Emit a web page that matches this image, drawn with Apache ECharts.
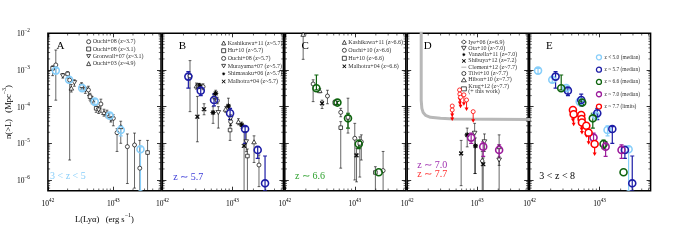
<!DOCTYPE html>
<html><head><meta charset="utf-8">
<script src="https://cdn.jsdelivr.net/npm/echarts@6/dist/echarts.min.js"></script>
<style>html,body{margin:0;padding:0;background:#fff}#c{width:690px;height:240px}</style>
</head><body><div id="c"></div>
<script>
// ---------------- data: rows are [L (erg/s), n(>L) (Mpc^-3), errLow, errHigh] ----------------
const xRange = [1e42, 5.36e43];
const yRange = [5.1e-7, 1e-2];
const xDecades = [42, 43];
const yDecades = [-7, -6, -5, -4, -3];
const minorMult = [2, 3, 4, 5, 6, 7, 8, 9];

// Panel A (3 < z < 5)
const medA = [[1.32e42,9.6e-4,8.0e-4,1.1e-3],[2.11e42,5.4e-4,4.6e-4,6.2e-4],[3.34e42,3.2e-4,2.8e-4,3.6e-4],[5.2e42,1.37e-4,1.1e-4,1.6e-4],[8.8e42,5.7e-5,4.9e-5,6.4e-5],[1.3e43,2.3e-5,1.6e-5,3.0e-5],[2.6e43,6.9e-6,5.1e-7,8.0e-6]];
const ouchi08z37 = [[1.32e42,1.37e-3,1.5e-4,3.5e-3],[2.15e42,5.3e-4,3.5e-6,6.5e-4],[4.16e42,2.85e-4,2.0e-4,3.6e-4],[6.46e42,1.18e-4,7e-5,1.6e-4],[1.0e43,4.8e-5,3e-5,6e-5],[1.14e43,1.95e-5,6e-6,2.5e-5],[1.64e43,8.1e-6,8e-7,1.8e-5],[2.11e43,9.0e-6,6e-7,1.9e-5],[2.54e43,2.1e-6,5.1e-7,1.2e-5]];
const ouchi08z31 = [[1.18e42,1.11e-3,7e-4,1.3e-3],[2.0e42,7.8e-4,6e-4,9e-4],[3.27e42,3.7e-4,3e-4,4.5e-4],[4.4e42,1.87e-4,1.5e-4,2.3e-4],[5.47e42,9.0e-5,7e-5,1.1e-4],[8.0e42,6.3e-5,5e-5,8e-5],[3.34e43,5.6e-6,5.1e-7,1.2e-5]];
const gronwall07 = [[1.69e42,6.9e-4,6e-4,8e-4],[2.54e42,4.5e-4,3.6e-4,5.4e-4],[3.73e42,2.85e-4,2.3e-4,3.4e-4],[5.97e42,8.1e-5,6.5e-5,1.0e-4],[9.16e42,4.5e-5,3.8e-5,5.3e-5]];
const ouchi03 = [[2.28e42,3.2e-4,2.5e-4,4e-4],[4.74e42,1.52e-4,1.2e-4,1.9e-4],[7.2e42,6.9e-5,5.5e-5,8.5e-5],[1.3e43,2.85e-5,1.0e-5,4e-5]];

// Panel B (z ~ 5.7)
const medB = [[2.35e42,6.6e-4,3.2e-4,9e-4],[3.53e42,2.73e-4,2.0e-4,3.3e-4],[5.47e42,1.52e-4,1.05e-4,2.2e-4],[9.27e42,6.6e-5,4.4e-5,9e-5],[1.52e43,2.46e-5,1e-5,2.85e-5],[2.3e43,6.6e-6,3.9e-6,8.1e-6],[2.93e43,8.1e-7,5.1e-7,4.5e-6]];
const kashikawa11B = [[3.06e42,3.67e-4,3e-4,4.4e-4],[5.47e42,1.95e-4,1.6e-4,2.3e-4],[8.0e42,8.5e-5,7e-5,1.0e-4],[1.22e43,3.9e-5,3.2e-5,4.7e-5],[2.04e43,1.1e-5,3e-6,1.6e-5]];
const hu10B = [[3.27e42,3.67e-4,3.1e-4,4.3e-4],[9.27e42,2.3e-5,1.2e-5,4.8e-5],[1.64e43,4.5e-6,5.1e-7,7e-6]];
const ouchi08B = [[2.48e42,6.9e-4,7.3e-5,1.8e-3],[3.81e42,3.5e-4,2.9e-4,4.2e-4],[6.1e42,1.46e-4,1.2e-4,1.8e-4],[9.46e42,3.9e-5,3.1e-5,4.8e-5],[2.4e43,2.56e-6,6.6e-7,4.8e-6]];
const murayama07 = [[6.3e42,6.9e-5,2.6e-5,1.0e-4],[9.46e42,4.8e-5,3e-5,6e-5],[1.58e43,1.1e-5,5.9e-6,2.1e-5]];
const shimasaku06 = [[3.41e42,3.67e-4,3.2e-4,4.3e-4],[5.3e42,6.9e-5,3.5e-5,1e-4],[5.78e42,2.3e-4,1.5e-4,2.8e-4],[8.77e42,1.04e-4,8.5e-5,1.7e-4],[1.36e43,3.16e-5,2.6e-5,3.8e-5]];
const malhotra04B = [[3.16e42,5.3e-5,1.1e-5,1.9e-4],[3.94e42,8.5e-5,6e-5,1.2e-4],[1.47e43,8.5e-6,5.1e-7,2.1e-5]];

// Panel C (z ~ 6.6)
const medC = [[2.83e42,3.16e-4,2.85e-4,7.3e-4],[5.65e42,1.29e-4,1.15e-4,1.4e-4],[8.0e42,4.8e-5,2.6e-5,6.6e-5],[1.14e43,9.6e-6,7.2e-6,1.23e-5],[2.2e43,1.62e-6,null,null]];
const kashikawa11C = [[1.83e42,9.4e-3,1.95e-3,9.4e-3],[3.16e42,2.73e-4,2.4e-4,3.1e-4]];
const ouchi10C = [[2.54e42,4.15e-4,1.37e-4,5.4e-4],[4.07e42,1.95e-4,1.2e-4,2.8e-4],[6.3e42,7.0e-5,5.3e-5,9e-5],[1.0e43,1.37e-5,1e-6,3.5e-5],[1.24e43,1.1e-5,3.5e-6,1.7e-5],[2.54e43,1.8e-6,5.1e-7,6e-6]];
const hu10C = [[5.18e42,1.29e-4,1.1e-4,1.5e-4],[6.3e42,2.67e-5,2.1e-6,3.9e-5],[8.0e42,5.1e-5,1.9e-5,1.7e-4],[1.18e43,1e-5,1.2e-6,1.5e-5],[1.97e43,1.6e-6,5.1e-7,2.3e-6]];
const malhotra04C = [[3.41e42,1.23e-4,8.9e-5,1.5e-4],[1.06e43,4.7e-6,8.9e-7,7.4e-6]];

// Panel D (z ~ 7.0 / 7.7)
const clement12 = [[1.585e42,2e-2],[1.585e42,1.5e-4],[1.62e42,9.0e-5],[1.69e42,6.9e-5],[1.83e42,5.8e-5],[2.15e42,5.1e-5],[2.99e42,4.8e-5],[4.64e42,4.6e-5],[1e44,4.45e-5]];
const limitsD = [[4.4e42,1.04e-4],[4.4e42,8.1e-5],[5.6e42,2.85e-4],[5.65e42,2.2e-4],[5.78e42,1.8e-4],[6.46e42,2.1e-4],[7.05e42,1.52e-4],[8.77e42,7.3e-5]];
const medD = [[8.2e42,1.43e-5,1e-5,1.9e-5],[1.22e43,8.1e-6,4.4e-6,1.1e-5],[2.06e43,6.6e-6,3.9e-6,9.1e-6]];
const iye06 = [[1.18e43,3.3e-6,5.1e-7,6e-6]];
const ota10 = [[9.2e42,1.88e-5,1.5e-6,3.5e-5],[1.27e43,1.1e-5,6e-6,1.8e-5],[2.06e43,3.5e-6,2.5e-6,4.4e-6]];
const vanzella11 = [[7.2e42,1.69e-5,8e-6,2.6e-5],[9.46e42,8.5e-6,1.5e-6,1.4e-5]];
const shibuya12 = [[5.9e42,5.3e-6,7e-7,1.2e-5],[1.22e43,2.7e-6,5.1e-7,4e-6]];
const tilvi10 = [];
const hibon10 = [[2.06e43,8.1e-6,5.1e-7,1.7e-5]];
const krug12 = [];

// Panel E (3 < z < 8): medians from A–D plus
const limitsE = [[4.16e42,8.1e-5],[4.26e42,6.2e-5],[5.47e42,5.9e-5],[5.53e42,4.6e-5],[5.6e42,3.7e-5],[6.46e42,3.0e-5],[6.97e42,1.95e-5],[8.5e42,9.6e-6]];

// ---------------- styling ----------------
const FONT = 'Liberation Serif';
const C_LB = '#87CEFA', C_BL = '#1c1ca6', C_GR = '#0e640e', C_PU = '#9c1c9c', C_RD = '#ff0000';
const INVTRI = 'path://M0,0L10,0L5,8.66Z';
const XSYM = 'path://M0,1.5L1.5,0L5,3.5L8.5,0L10,1.5L6.5,5L10,8.5L8.5,10L5,6.5L1.5,10L0,8.5L3.5,5Z';
const STAR = (function(){let s='path://';for(let k=0;k<16;k++){const a=Math.PI*k/8-Math.PI/2;const r=k%2===0?10:4.5;s+=(k===0?'M':'L')+(10+r*Math.cos(a)).toFixed(2)+','+(10+r*Math.sin(a)).toFixed(2);}return s+'Z';})();
const BAR = 'path://M0,0L12,0L12,2.6L0,2.6Z';

const rich = {
  b:{fontFamily:FONT,fontSize:7.5,lineHeight:10,verticalAlign:'bottom',color:'#000'},
  s:{fontFamily:FONT,fontSize:5.2,lineHeight:10,verticalAlign:'top',color:'#000'}
};
const nameRich = {
  b:{fontFamily:FONT,fontSize:8.5,lineHeight:12,verticalAlign:'bottom',color:'#000'},
  s:{fontFamily:FONT,fontSize:6,lineHeight:12,verticalAlign:'top',color:'#000'}
};
function powLabel(v){const l=Math.log10(v);const e=Math.round(l);if(Math.abs(l-e)>1e-6)return '';return '{b|10}{s|'+(e<0?'−'+(-e):e)+'}';}
function minorVals(decs,range){const out=[];decs.forEach(e=>minorMult.forEach(m=>{const v=m*Math.pow(10,e);if(v>range[0]&&v<range[1])out.push(v);}));return out;}
const xMinor = minorVals(xDecades,xRange), yMinor = minorVals(yDecades,yRange);

const grid=[],xAxis=[],yAxis=[];
for(let i=0;i<5;i++){
  grid.push({left:40+122.4*i,top:33.3,width:121,height:157.4,show:true,borderColor:'#000',borderWidth:1.5,backgroundColor:'rgba(0,0,0,0)'});
  const tick={show:true,inside:true,length:4,lineStyle:{color:'#000',width:0.8}};
  xAxis.push({type:'log',gridIndex:i,position:'bottom',min:xRange[0],max:xRange[1],axisLine:{show:false},axisTick:tick,minorTick:{show:false},splitLine:{show:false},
    axisLabel:{formatter:powLabel,rich:rich,margin:7,hideOverlap:false},
    name:i===0?'{b|L(Lyα)   (erg s}{s|−1}{b|)}':'',nameLocation:'middle',nameGap:19,nameTextStyle:{rich:nameRich}});
  xAxis.push({type:'log',gridIndex:i,position:'top',min:xRange[0],max:xRange[1],axisLine:{show:false},axisTick:tick,splitLine:{show:false},axisLabel:{show:false}});
  yAxis.push({type:'log',gridIndex:i,position:'left',min:yRange[0],max:yRange[1],axisLine:{show:false},axisTick:tick,minorTick:{show:false},splitLine:{show:false},
    axisLabel:{show:i===0,formatter:powLabel,rich:rich,margin:18,hideOverlap:false},
    name:i===0?'{b|n(>L)   (Mpc}{s|−3}{b|)}':'',nameLocation:'middle',nameGap:28,nameRotate:90,nameTextStyle:{rich:nameRich}});
  yAxis.push({type:'log',gridIndex:i,position:'right',min:yRange[0],max:yRange[1],axisLine:{show:false},axisTick:tick,splitLine:{show:false},axisLabel:{show:false}});
}

function scat(name,data,gi,symbol,o){o=o||{};return {type:'scatter',name:name,xAxisIndex:2*gi,yAxisIndex:2*gi,data:data.map(d=>[d[0],d[1]]),symbol:symbol,symbolSize:o.size||4,
  itemStyle:{color:o.fill||'#fff',borderColor:o.stroke||'#000',borderWidth:o.bw||0.7,opacity:1},z:o.z||4,silent:true,clip:true,animation:false};}
function errs(data,gi,color,lw,cap,z){return {type:'custom',xAxisIndex:2*gi,yAxisIndex:2*gi,clip:true,silent:true,z:z||2,animation:false,
  data:data.filter(d=>d[2]!=null).map(d=>[d[0],d[1],d[2],d[3]]),encode:{x:0,y:1},
  renderItem:function(p,api){const x=api.value(0),lo=api.value(2),hi=api.value(3);const a=api.coord([x,lo]),b=api.coord([x,hi]);
    const st={stroke:color,lineWidth:lw};
    return {type:'group',children:[
      {type:'line',shape:{x1:a[0],y1:a[1],x2:b[0],y2:b[1]},style:st},
      {type:'line',shape:{x1:a[0]-cap,y1:a[1],x2:a[0]+cap,y2:a[1]},style:st},
      {type:'line',shape:{x1:b[0]-cap,y1:b[1],x2:b[0]+cap,y2:b[1]},style:st}]};}};}
function arrows(data,gi,color,len,lw,z){return {type:'custom',xAxisIndex:2*gi,yAxisIndex:2*gi,clip:true,silent:true,z:z||3,animation:false,
  data:data.map(d=>[d[0],d[1]]),encode:{x:0,y:1},
  renderItem:function(p,api){const c=api.coord([api.value(0),api.value(1)]);const y1=c[1]+len;
    return {type:'group',children:[
      {type:'line',shape:{x1:c[0],y1:c[1],x2:c[0],y2:y1-2},style:{stroke:color,lineWidth:lw}},
      {type:'polygon',shape:{points:[[c[0]-2,y1-3.5],[c[0]+2,y1-3.5],[c[0],y1]]},style:{fill:color}}]};}};}
// minor (log) ticks on all four sides of a panel, placed through the axis scales
function minorTicks(gi){
  const st={stroke:'#000',lineWidth:0.6}, L=2.2;
  return [
    {type:'custom',xAxisIndex:2*gi,yAxisIndex:2*gi,clip:false,silent:true,z:8,animation:false,data:xMinor.map(v=>[v,yRange[0]]),encode:{x:0,y:1},
      renderItem:function(p,api){const cs=p.coordSys;const x=api.coord([api.value(0),yRange[0]])[0];
        return {type:'group',children:[{type:'line',shape:{x1:x,y1:cs.y+cs.height,x2:x,y2:cs.y+cs.height-L},style:st},{type:'line',shape:{x1:x,y1:cs.y,x2:x,y2:cs.y+L},style:st}]};}},
    {type:'custom',xAxisIndex:2*gi,yAxisIndex:2*gi,clip:false,silent:true,z:8,animation:false,data:yMinor.map(v=>[xRange[0],v]),encode:{x:0,y:1},
      renderItem:function(p,api){const cs=p.coordSys;const y=api.coord([xRange[0],api.value(1)])[1];
        return {type:'group',children:[{type:'line',shape:{x1:cs.x,y1:y,x2:cs.x+L,y2:y},style:st},{type:'line',shape:{x1:cs.x+cs.width,y1:y,x2:cs.x+cs.width-L,y2:y},style:st}]};}}
  ];
}
const medStyle=(c)=>({size:7,fill:'rgba(0,0,0,0)',stroke:c,bw:1.6,z:6});
const BLK=0.6, CAP=1.4;

const series=[
  // A
  errs(ouchi08z37,0,'#000',BLK,CAP),errs(ouchi08z31,0,'#000',BLK,CAP),errs(gronwall07,0,'#000',BLK,CAP),errs(ouchi03,0,'#000',BLK,CAP),
  errs(medA,0,C_LB,1.2,2),
  scat('Ouchi+08 (z~3.7)',ouchi08z37,0,'circle'),
  scat('Ouchi+08 (z~3.1)',ouchi08z31,0,'rect',{size:3.6}),
  scat('Gronwall+07 (z~3.1)',gronwall07,0,INVTRI,{size:[4.6,4]}),
  scat('Ouchi+03 (z~4.9)',ouchi03,0,'triangle',{size:[4.6,4]}),
  scat('medA',medA,0,'circle',medStyle(C_LB)),
  // B
  errs(kashikawa11B,1,'#000',BLK,CAP),errs(hu10B,1,'#000',BLK,CAP),errs(ouchi08B,1,'#000',BLK,CAP),errs(murayama07,1,'#000',BLK,CAP),errs(shimasaku06,1,'#000',BLK,CAP),errs(malhotra04B,1,'#000',BLK,CAP),
  errs(medB,1,C_BL,1.2,2),
  scat('Kashikawa+11 (z~5.7)',kashikawa11B,1,'triangle',{size:[4.6,4]}),
  scat('Hu+10 (z~5.7)',hu10B,1,'rect',{size:3.6}),
  scat('Ouchi+08 (z~5.7)',ouchi08B,1,'circle'),
  scat('Murayama+07 (z~5.7)',murayama07,1,INVTRI,{size:[4.6,4]}),
  scat('Shimasaku+06 (z~5.7)',shimasaku06,1,STAR,{size:5,fill:'#000'}),
  scat('Malhotra+04 (z~5.7)',malhotra04B,1,XSYM,{size:4,fill:'#000',bw:0}),
  scat('medB',medB,1,'circle',medStyle(C_BL)),
  // C
  errs(kashikawa11C,2,'#000',BLK,CAP),errs(ouchi10C,2,'#000',BLK,CAP),errs(hu10C,2,'#000',BLK,CAP),errs(malhotra04C,2,'#000',BLK,CAP),
  errs(medC,2,C_GR,1.2,2),
  scat('Kashikawa+11 (z~6.6)',kashikawa11C,2,'triangle',{size:[4.6,4]}),
  scat('Ouchi+10 (z~6.6)',ouchi10C,2,'circle'),
  scat('Hu+10 (z~6.6)',hu10C,2,'rect',{size:3.6}),
  scat('Malhotra+04 (z~6.6)',malhotra04C,2,XSYM,{size:4,fill:'#000',bw:0}),
  scat('medC',medC,2,'circle',medStyle(C_GR)),
  // D
  {type:'line',name:'Clement+12 (z~7.7)',xAxisIndex:6,yAxisIndex:6,data:clement12,symbol:'none',smooth:false,clip:true,silent:true,animation:false,
    lineStyle:{color:'#b8b8b8',width:3},itemStyle:{color:'#b8b8b8'},z:1},
  errs(iye06,3,'#000',BLK,CAP),errs(ota10,3,'#000',BLK,CAP),errs(vanzella11,3,'#000',BLK,CAP),errs(shibuya12,3,'#000',BLK,CAP),errs(hibon10,3,'#000',BLK,CAP),
  errs(medD,3,C_PU,1.2,2),
  arrows(limitsD,3,C_RD,11,0.9),
  scat('Iye+06 (z=6.9)',iye06,3,'diamond',{size:[4,5]}),
  scat('Ota+10 (z~7.0)',ota10,3,INVTRI,{size:[4.6,4]}),
  scat('Vanzella+11 (z=7.0)',vanzella11,3,STAR,{size:5,fill:'#000'}),
  scat('Shibuya+12 (z=7.2)',shibuya12,3,XSYM,{size:4,fill:'#000',bw:0}),
  scat('Tilvi+10 (z~7.7)',tilvi10,3,'circle'),
  scat('Hibon+10 (z~7.7)',hibon10,3,'triangle',{size:[4.6,4]}),
  scat('Krug+12 (z~7.7)',krug12,3,'rect',{size:3.6}),
  scat('limD',limitsD,3,'circle',{size:4,stroke:C_RD,bw:0.8,z:5}),
  scat('medD',medD,3,'circle',medStyle(C_PU)),
  // E
  errs(medA,4,C_LB,1.2,2),errs(medB,4,C_BL,1.2,2),errs(medC,4,C_GR,1.2,2),errs(medD,4,C_PU,1.2,2),
  arrows(limitsE,4,C_RD,12,1.2),
  scat('z < 5.0 (median)',medA,4,'circle',medStyle(C_LB)),
  scat('z ~ 5.7 (median)',medB,4,'circle',medStyle(C_BL)),
  scat('z ~ 6.6 (median)',medC,4,'circle',medStyle(C_GR)),
  scat('z ~ 7.0 (median)',medD,4,'circle',medStyle(C_PU)),
  scat('z ~ 7.7 (limits)',limitsE,4,'circle',Object.assign(medStyle(C_RD),{fill:'#fff'}))
];
for(let i=0;i<5;i++) series.push(...minorTicks(i));

const openSt={color:'#fff',borderColor:'#000',borderWidth:0.7};
const fillSt={color:'#000',borderColor:'#000',borderWidth:0};
const legBase={orient:'vertical',itemWidth:4,itemHeight:4,itemGap:1.3,padding:0,selectedMode:false,itemStyle:openSt,
  textStyle:{fontFamily:FONT,fontSize:6,lineHeight:4,color:'#333',padding:[0,0,0,-3]}};
const legend=[
  Object.assign({},legBase,{left:86.3,top:38.7,data:['Ouchi+08 (z~3.7)','Ouchi+08 (z~3.1)','Gronwall+07 (z~3.1)','Ouchi+03 (z~4.9)']}),
  Object.assign({},legBase,{left:221.3,top:40,itemGap:1.7,data:['Kashikawa+11 (z~5.7)','Hu+10 (z~5.7)','Ouchi+08 (z~5.7)','Murayama+07 (z~5.7)',
    {name:'Shimasaku+06 (z~5.7)',itemStyle:fillSt},{name:'Malhotra+04 (z~5.7)',itemStyle:fillSt}]}),
  Object.assign({},legBase,{left:342,top:39.3,itemGap:2,data:['Kashikawa+11 (z~6.6)','Ouchi+10 (z~6.6)','Hu+10 (z~6.6)',{name:'Malhotra+04 (z~6.6)',itemStyle:fillSt}]}),
  Object.assign({},legBase,{left:461,top:39,itemGap:0.3,itemWidth:5,
    textStyle:{fontFamily:FONT,fontSize:6,lineHeight:5.5,color:'#333',padding:[0,0,0,-3]},
    formatter:n=>n.indexOf('Krug')===0?n+'\n(+ this work)':n,
    data:['Iye+06 (z=6.9)','Ota+10 (z~7.0)',{name:'Vanzella+11 (z=7.0)',itemStyle:fillSt},{name:'Shibuya+12 (z=7.2)',itemStyle:fillSt},
      {name:'Clement+12 (z~7.7)',icon:BAR,itemStyle:{color:'#b8b8b8',borderWidth:0},lineStyle:{width:0}},'Tilvi+10 (z~7.7)','Hibon+10 (z~7.7)','Krug+12 (z~7.7)']}),
  Object.assign({},legBase,{left:595.8,top:54.2,itemWidth:5,itemHeight:5,itemGap:6,textStyle:{fontFamily:FONT,fontSize:5.4,lineHeight:5,color:'#333',padding:[0,0,0,-2]},
    data:[{name:'z < 5.0 (median)',itemStyle:{color:'#fff',borderColor:C_LB,borderWidth:1.3}},
          {name:'z ~ 5.7 (median)',itemStyle:{color:'#fff',borderColor:C_BL,borderWidth:1.3}},
          {name:'z ~ 6.6 (median)',itemStyle:{color:'#fff',borderColor:C_GR,borderWidth:1.3}},
          {name:'z ~ 7.0 (median)',itemStyle:{color:'#fff',borderColor:C_PU,borderWidth:1.3}},
          {name:'z ~ 7.7 (limits)',itemStyle:{color:'#fff',borderColor:C_RD,borderWidth:1.3}}]})
];

function txt(x,y,t,color,size){return {type:'text',x:x,y:y,silent:true,style:{text:t,fill:color,font:size+'px "'+FONT+'"',align:'left',verticalAlign:'middle'}};}
const graphic=[
  txt(56.5,46.5,'A','#000',11),txt(178.8,46.5,'B','#000',11),txt(301.5,46.5,'C','#000',11),txt(423.8,46.5,'D','#000',11),txt(546,46.5,'E','#000',11),
  txt(50,176,'3 < z < 5',C_LB,10),
  txt(173.3,177,'z ∼ 5.7','#3a3ad8',10),
  txt(295,176.5,'z ∼ 6.6','#2ca02c',10),
  txt(417.3,165,'z ∼ 7.0','#a030b0',10),
  txt(417.3,174,'z ∼ 7.7','#ff3030',10),
  txt(539.3,176.3,'3 < z < 8','#000',10)
];

const chart=echarts.init(document.getElementById('c'),null,{renderer:'canvas'});
chart.setOption({animation:false,backgroundColor:'#fff',textStyle:{fontFamily:FONT},grid,xAxis,yAxis,legend,series,graphic});
</script></body></html>
